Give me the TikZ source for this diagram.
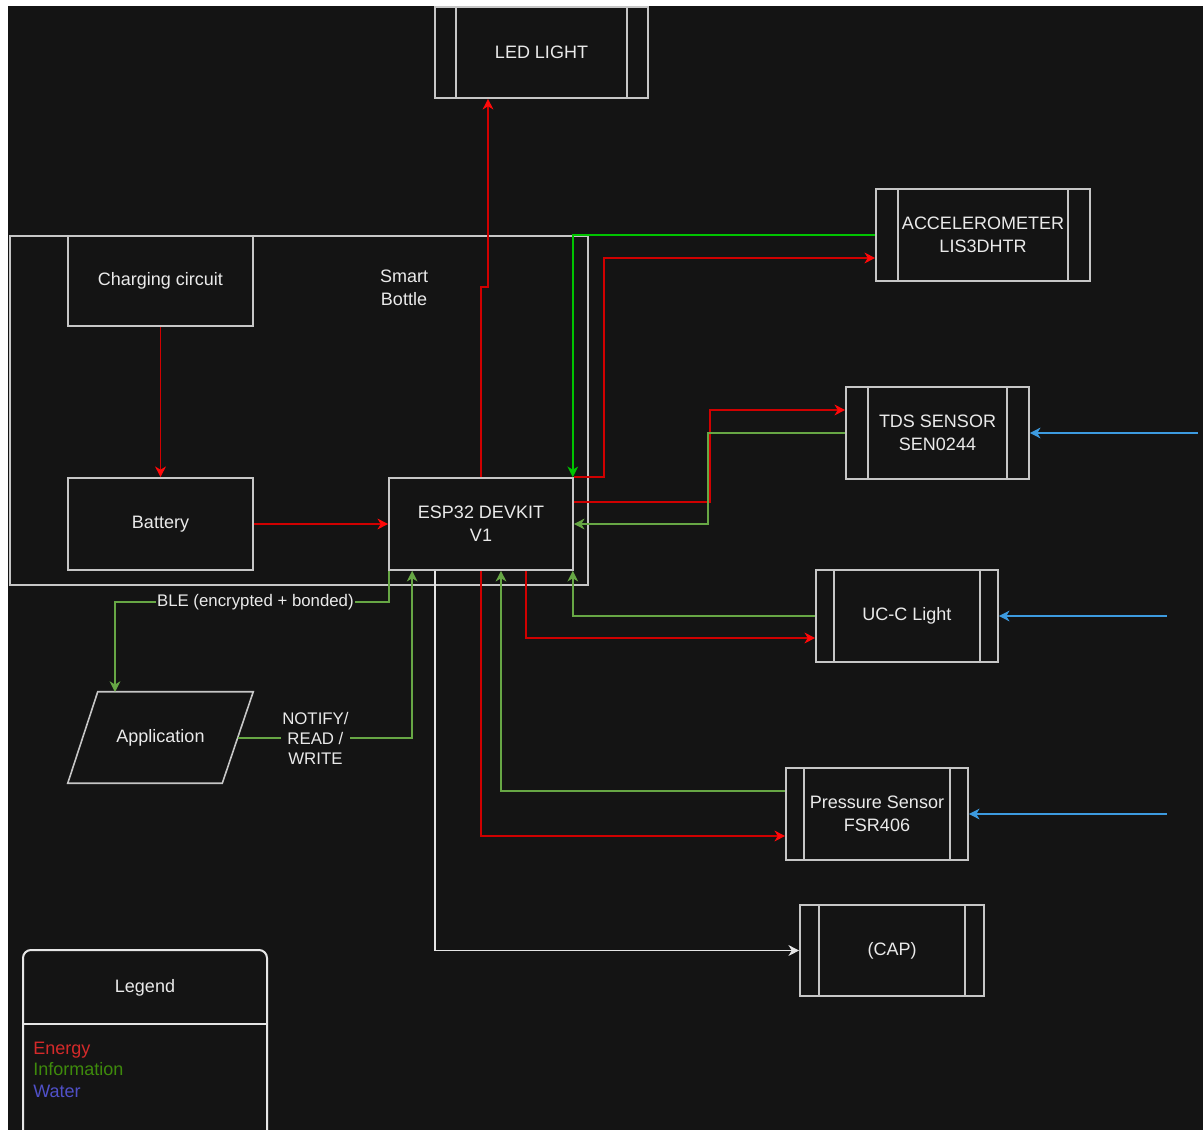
\documentclass[tikz,border=0pt]{standalone}
\usepackage{fontspec}
\setmainfont{Liberation Sans}
\usetikzlibrary{arrows.meta,calc}
\definecolor{bg}{HTML}{141414}
\definecolor{edgec}{HTML}{C6C6C6}
\definecolor{txt}{HTML}{EAEAEA}
\definecolor{enc}{HTML}{D00000}
\definecolor{entip}{HTML}{FF0A0A}
\definecolor{infoc}{HTML}{67A745}
\definecolor{infob}{HTML}{00C400}
\definecolor{watc}{HTML}{3D9BE0}
\definecolor{capc}{HTML}{E6E6E6}
\definecolor{legE}{HTML}{D42A2A}
\definecolor{legI}{HTML}{3E8A0C}
\definecolor{legW}{HTML}{5050C8}
\begin{document}
\begin{tikzpicture}[x=0.75pt,y=-0.75pt,
  every node/.style={text=txt, align=center, inner sep=0pt, font=\fontsize{13.5}{17.25}\selectfont},
  blk/.style 2 args={draw=edgec, line width=1.2pt, fill=bg, minimum width=#1*0.75pt, minimum height=#2*0.75pt},
  proc/.style={path picture={
    \draw[edgec, line width=1.2pt] ([xshift=#1]path picture bounding box.north west) -- ([xshift=#1]path picture bounding box.south west);
    \draw[edgec, line width=1.2pt] ([xshift=-#1]path picture bounding box.north east) -- ([xshift=-#1]path picture bounding box.south east);}},
  conn/.style={line width=1.1pt},
  energy/.style={conn, draw=enc, -{Stealth[length=8pt,width=8pt,inset=2.4pt,color=entip]}},
  info/.style={conn, draw=infoc, -{Stealth[length=8pt,width=8pt,inset=2.4pt]}},
  infobright/.style={conn, draw=infob, -{Stealth[length=8pt,width=8pt,inset=2.4pt]}},
  water/.style={conn, draw=watc, -{Stealth[length=8pt,width=8pt,inset=2.4pt]}},
  plain/.style={conn, draw=capc, -{Stealth[length=8pt,width=8pt,inset=2.4pt]}},
  elabel/.style={fill=bg, inner sep=1pt, font=\fontsize{12.6}{15}\selectfont}
]
\useasboundingbox (0,0) rectangle (1203,1130);
\clip (0,0) rectangle (1203,1130);
\fill[white] (0,0) rectangle (1203,1130);
\fill[bg] (8,6) rectangle (1203,1130);

% container
\node[blk={578}{349}] (bottle) at (299,410.5) {};
\node (bottlelbl) at (404,288) {Smart\\Bottle};

% blocks
\node[blk={185}{90}] (charging) at (160.5,281) {Charging circuit};
\node[blk={185}{92}] (battery) at (160.5,524) {Battery};
\node[blk={184}{92}] (esp) at (481,524) {ESP32 DEVKIT\\V1};
\node[blk={213}{91}, proc=15.75pt] (led) at (541.5,52.5) {LED LIGHT};
\node[blk={214}{92}, proc=16.5pt] (accel) at (983,235) {ACCELEROMETER\\LIS3DHTR};
\node[blk={183}{92}, proc=16.5pt] (tds) at (937.5,433) {TDS SENSOR\\SEN0244};
\node[blk={182}{92}, proc=13.5pt] (ucc) at (907,616) {UC-C Light};
\node[blk={182}{92}, proc=13.5pt] (press) at (877,814) {Pressure Sensor\\FSR406};
\node[blk={184}{91}, proc=14.25pt] (cap) at (892,950.5) {(CAP)};
\node[minimum width=138.75pt, minimum height=68.25pt] (app) at (160.5,737.5) {Application};
\draw[edgec, line width=1.2pt] ($(app.north west)+(30,0)$) -- (app.north east)
  -- ($(app.south east)+(-31,0)$) -- (app.south west) -- cycle;

% energy connectors
\draw[energy] (charging) -- (battery);
\draw[energy] (battery) -- (esp);
\draw[energy] (esp.north) -- ++(0,-190) -- ++(7,0) -- ($(led.south)+(-53.5,0)$);
\draw[energy] (esp.north east) -- ++(30,0) |- ($(accel.west)+(0,23)$);
\draw[energy] ($(esp.east)+(0,-22)$) -- ++(136,0) |- ($(tds.west)+(0,-23)$);
\draw[energy] ($(esp.south)+(45,0)$) |- ($(ucc.west)+(0,22)$);
\draw[energy] (esp.south) |- ($(press.west)+(0,22)$);

% information connectors
\draw[infobright] (accel.west) -| ($(esp.north east)+(-1,0)$);
\draw[info] (tds.west) -- ++(-137,0) |- (esp.east);
\draw[info] (ucc.west) -| ($(esp.south east)+(-1,0)$);
\draw[info] ($(press.west)+(0,-23)$) -| ($(esp.south)+(20,0)$);
\draw[info] ($(esp.south west)+(1,0)$) -- ++(0,31) -| node[pos=0.244, elabel] {BLE (encrypted + bonded)} ($(app.center)+(-45.5,-45.5)$);
\draw[info] ($(app.center)+(77,0.5)$) -| node[pos=0.223, elabel] {NOTIFY/\\READ /\\WRITE} ($(esp.south west)+(24,0)$);

% other
\draw[plain] ($(esp.south)+(-46,0)$) |- (cap.west);

% water
\draw[water] ($(tds.east)+(168,0)$) -- (tds.east);
\draw[water] ($(ucc.east)+(168,0)$) -- (ucc.east);
\draw[water] ($(press.east)+(198,0)$) -- (press.east);

% legend
\node[draw=capc, line width=1.5pt, rounded corners=6pt, fill=bg, minimum width=183pt, minimum height=150pt] (legend) at (145,1050) {};
\draw[capc, line width=1.5pt] ($(legend.north west)+(0,75)$) -- ($(legend.north east)+(0,75)$);
\node (legtitle) at (145,988) {Legend};
\node[anchor=base west, align=left, font=\fontsize{13.5}{16.1}\selectfont] (legitems) at (33,1097)
  {\textcolor{legE}{Energy}\\\textcolor{legI}{Information}\\\textcolor{legW}{Water}};
\end{tikzpicture}
\end{document}
